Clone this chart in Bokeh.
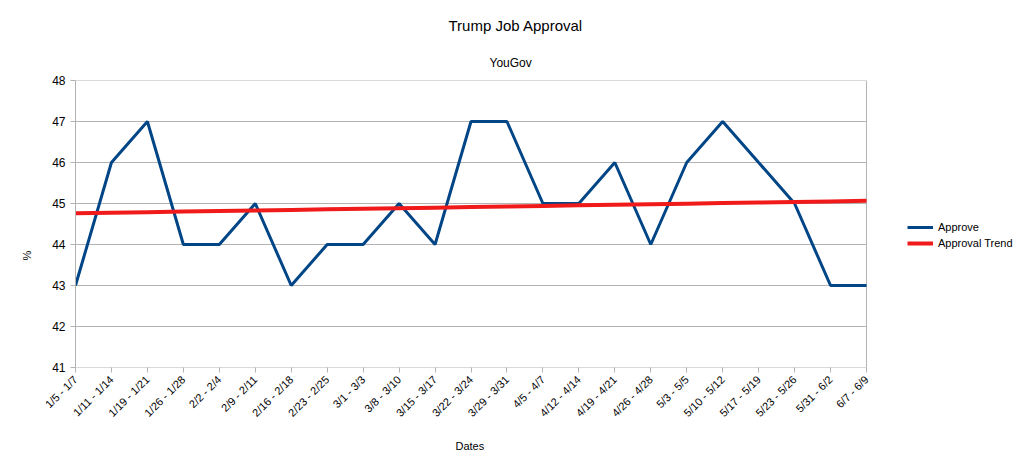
import numpy as np
from bokeh.plotting import figure
from bokeh.models import (Range1d, FixedTicker, Title, Legend, LegendItem,
                          ColumnDataSource)
from bokeh.embed import file_html
from bokeh.resources import INLINE

dates = ["1/5 - 1/7", "1/11 - 1/14", "1/19 - 1/21", "1/26 - 1/28", "2/2 - 2/4",
         "2/9 - 2/11", "2/16 - 2/18", "2/23 - 2/25", "3/1 - 3/3", "3/8 - 3/10",
         "3/15 - 3/17", "3/22 - 3/24", "3/29 - 3/31", "4/5 - 4/7", "4/12 - 4/14",
         "4/19 - 4/21", "4/26 - 4/28", "5/3 - 5/5", "5/10 - 5/12", "5/17 - 5/19",
         "5/23 - 5/26", "5/31 - 6/2", "6/7 - 6/9"]
approve = [43, 46, 47, 44, 44, 45, 43, 44, 44, 45, 44, 47, 47, 45, 45, 46, 44,
           46, 47, 46, 45, 43, 43]
y_ticks = [41, 42, 43, 44, 45, 46, 47, 48]

xs = list(range(len(dates)))
slope, intercept = np.polyfit(xs, approve, 1)
trend = [slope * x + intercept for x in xs]

FONT = "Liberation Sans"
GRID = "#b3b3b3"

W, H = 1020, 466
LEFT, TOP, BOTTOM = 75, 80, 99
DATA_W = 791
FRAME_W = W - LEFT
x_last = len(dates) - 1
x_end = x_last * FRAME_W / DATA_W

p = figure(width=W, height=H, output_backend="svg", toolbar_location=None,
           x_range=Range1d(0, x_end), y_range=Range1d(y_ticks[0], y_ticks[-1]),
           min_border_left=LEFT, min_border_right=0, min_border_top=TOP,
           min_border_bottom=BOTTOM)

# grid lines and right border limited to the data area
p.segment(x0=[0] * len(y_ticks), y0=y_ticks, x1=[x_last] * len(y_ticks), y1=y_ticks,
          line_color=GRID, line_width=1)
p.segment(x0=[x_last], y0=[y_ticks[0]], x1=[x_last], y1=[y_ticks[-1]],
          line_color=GRID, line_width=1)

src = ColumnDataSource(dict(x=xs, approve=approve, trend=trend))
r1 = p.line("x", "approve", source=src, line_color="#004586", line_width=3)
r2 = p.line("x", "trend", source=src, line_color="#f01a1a", line_width=4)

p.xaxis.ticker = FixedTicker(ticks=xs)
p.xaxis.major_label_overrides = {i: d for i, d in enumerate(dates)}
p.xaxis.major_label_orientation = np.pi / 4
p.yaxis.ticker = FixedTicker(ticks=y_ticks)

for ax in (p.xaxis, p.yaxis):
    ax.axis_line_color = GRID
    ax.major_tick_line_color = GRID
    ax.major_tick_in = 0
    ax.major_tick_out = 5
    ax.minor_tick_line_color = None
    ax.major_label_text_font = FONT
    ax.major_label_text_color = "#000000"
p.xaxis.axis_line_color = None

p.xaxis.major_label_text_font_size = "11px"
p.yaxis.major_label_text_font_size = "12px"

p.xgrid.grid_line_color = None
p.ygrid.grid_line_color = None
p.outline_line_color = None

p.title = None
sub = Title(text="YouGov", align="left", offset=414, text_font=FONT,
            text_font_size="12px", text_font_style="normal", text_color="#000000",
            standoff=22)
main = Title(text="Trump Job Approval", align="left", offset=373, text_font=FONT,
             text_font_size="15px", text_font_style="normal", text_color="#000000",
             standoff=18)
p.add_layout(sub, "above")
p.add_layout(main, "above")

xlab = Title(text="Dates", align="left", offset=380, text_font=FONT,
             text_font_size="11px", text_font_style="normal", text_color="#000000",
             standoff=23)
p.add_layout(xlab, "below")
ylab = Title(text="%", align="left", offset=107, text_font=FONT,
             text_font_size="11px", text_font_style="normal", text_color="#000000",
             standoff=33)
p.add_layout(ylab, "left")

legend = Legend(items=[LegendItem(label="Approve", renderers=[r1]),
                       LegendItem(label="Approval Trend", renderers=[r2])],
                location=(832, 118), label_text_font=FONT, label_text_font_size="11px",
                label_text_color="#000000", glyph_width=26, glyph_height=12,
                label_standoff=5, spacing=4, border_line_color=None,
                background_fill_alpha=0, margin=0, padding=4, label_height=12)
p.add_layout(legend, "center")

open("out.html", "w").write(file_html(p, INLINE))
